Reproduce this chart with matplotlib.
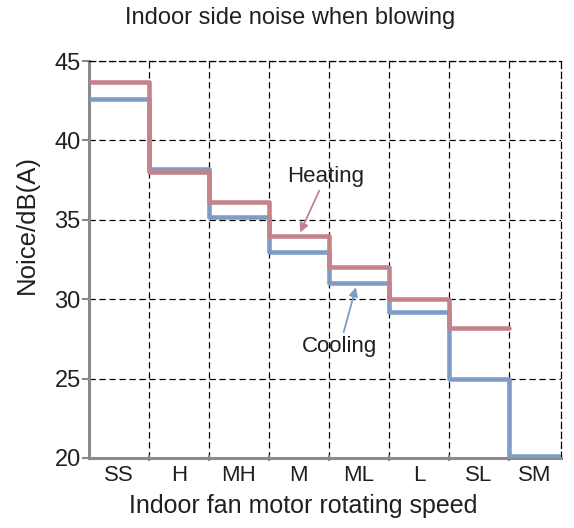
import numpy as np
import matplotlib
matplotlib.use("Agg")
import matplotlib.pyplot as plt

plt.rcParams['font.family'] = ['Liberation Sans', 'DejaVu Sans']

categories = ["SS", "H", "MH", "M", "ML", "L", "SL", "SM"]
heating = [43.7, 38.0, 36.1, 34.0, 32.0, 30.0, 28.2]
cooling = [42.6, 38.2, 35.2, 33.0, 31.0, 29.2, 25.0, 20.1]
yticks = [20, 25, 30, 35, 40, 45]

title = "Indoor side noise when blowing"
xlabel = "Indoor fan motor rotating speed"
ylabel = "Noice/dB(A)"

red = "#c4838a"
blue = "#7f9cc6"
txt = "#231f20"
xmax = 7.87

fig = plt.figure(figsize=(5.74, 5.28), dpi=100)
ax = fig.add_axes([89/574, 1-458/528, (561-89)/574, (458-61)/528])

def step_xy(vals, end):
    edges = list(range(len(vals))) + [end]
    return edges, list(vals) + [vals[-1]]

cx, cy = step_xy(cooling, xmax)
hx, hy = step_xy(heating, len(heating))
ax.step(cx, cy, where='post', color=blue, lw=3.3, solid_capstyle='butt', zorder=3)
ax.step(hx, hy, where='post', color=red, lw=3.3, solid_capstyle='round', zorder=4)

ax.set_xlim(0, xmax)
ax.set_ylim(20, 45)
ax.set_yticks(yticks)
ax.set_xticks(range(1, 8))
ax.set_xticklabels([])
centers = [i + 0.5 for i in range(len(categories))]
centers[-1] = (7 + xmax) / 2
ax.set_xticks(centers, minor=True)
ax.set_xticklabels(categories, minor=True, fontsize=16, color=txt)
ax.tick_params(axis='x', which='minor', length=0, pad=5)
ax.tick_params(axis='x', which='major', length=4, direction='inout', color='#888888', width=1.5)
ax.tick_params(axis='y', length=5, direction='out', color='#888888', width=1.5,
               labelsize=17, labelcolor=txt, pad=1)

ax.grid(True, which='major', color='black', linestyle=(0, (5, 3)), lw=0.9)
ax.set_axisbelow(True)
for s in ['top', 'right']:
    ax.spines[s].set_linestyle((0, (5, 3)))
    ax.spines[s].set_linewidth(0.9)
    ax.spines[s].set_color('black')
for s in ['left', 'bottom']:
    ax.spines[s].set_color('#8a8a8a')
    ax.spines[s].set_linewidth(2.2)

ax.annotate("Heating", xy=(3.52, 34.2), xytext=(3.95, 37.75), fontsize=16,
            ha='center', va='center', color=txt,
            arrowprops=dict(arrowstyle='-|>', color=red, lw=1.3, mutation_scale=13,
                            shrinkA=1, shrinkB=0))
ax.annotate("Cooling", xy=(4.45, 30.75), xytext=(4.18, 27.0), fontsize=16,
            ha='center', va='center', color=txt,
            arrowprops=dict(arrowstyle='-|>', color=blue, lw=1.3, mutation_scale=13,
                            shrinkA=1, shrinkB=0))

fig.text(290/574, 1-18/528, title, ha='center', va='center', fontsize=17, color=txt)
fig.text(303/574, 1-506/528, xlabel, ha='center', va='center', fontsize=18, color=txt)
fig.text(27/574, 1-225/528, ylabel, ha='center', va='center', rotation=90, fontsize=18.5, color=txt)

fig.savefig("out.png", dpi=100)
